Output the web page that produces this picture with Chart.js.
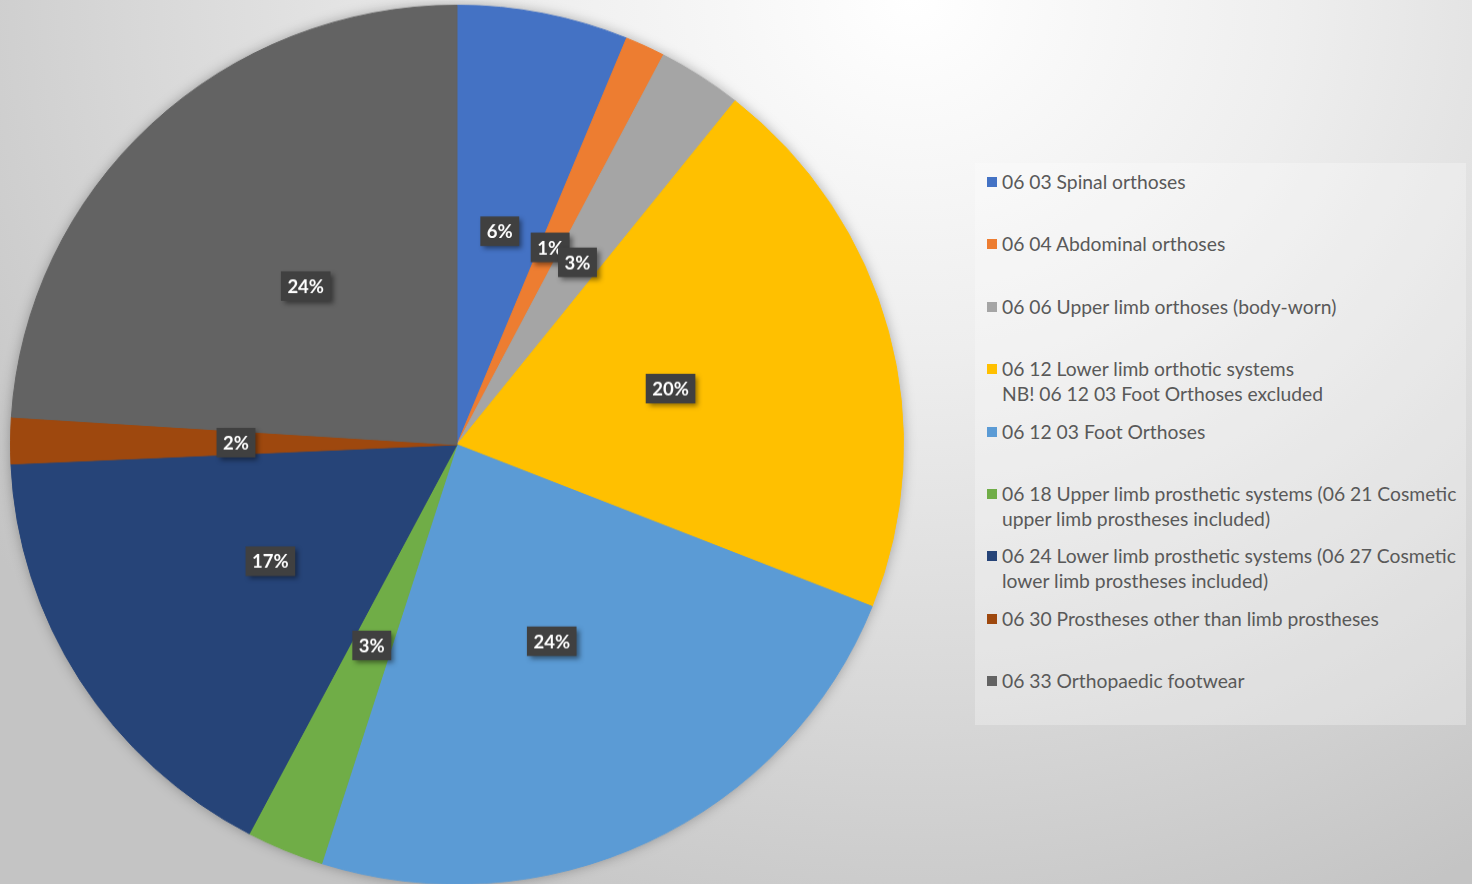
<!DOCTYPE html>
<html>
<head>
<meta charset="utf-8">
<script src="https://cdn.jsdelivr.net/npm/chart.js@4/dist/chart.umd.min.js"></script>
<style>
  html, body { margin: 0; padding: 0; width: 1472px; height: 884px; overflow: hidden; }
  body {
    position: relative;
    background: radial-gradient(ellipse 1100px 1000px at 62% 0%, #ffffff 0%, #eeeeee 35%, #d8d8d8 70%, #c4c4c4 100%);
    font-family: Lato, "Open Sans", sans-serif;
  }
  #wrap {
    position: absolute; left: -10px; top: -14.7px; width: 934px; height: 934px;
    transform: scaleY(0.9843); transform-origin: 0 0;
  }
  #legend {
    position: absolute; left: 975px; top: 163px; width: 491px; height: 562px;
    background: rgba(255, 255, 255, 0.28);
  }
  .item { position: absolute; left: 12px; right: 2px; color: #595959; font-size: 19.3px; line-height: 25px; }
  .item .box { position: absolute; left: 0; top: 8px; width: 10px; height: 10px; }
  .item .txt { margin-left: 15px; white-space: pre; }
</style>
</head>
<body>
<div id="wrap"><canvas id="chart"></canvas></div>
<div id="legend"></div>
<script>
const categories = [
  "06 03 Spinal orthoses",
  "06 04 Abdominal orthoses",
  "06 06 Upper limb orthoses (body-worn)",
  "06 12 Lower limb orthotic systems\nNB! 06 12 03 Foot Orthoses excluded",
  "06 12 03 Foot Orthoses",
  "06 18 Upper limb prosthetic systems (06 21 Cosmetic\nupper limb prostheses included)",
  "06 24 Lower limb prosthetic systems (06 27 Cosmetic\nlower limb prostheses included)",
  "06 30 Prostheses other than limb prostheses",
  "06 33 Orthopaedic footwear"
];
const shares = [6.2, 1.45, 3.05, 20.3, 23.9, 2.8, 16.6, 1.7, 24.0];
const colors = ["#4472C4", "#ED7D31", "#A5A5A5", "#FFC000", "#5B9BD5", "#70AD47", "#264478", "#9E480E", "#636363"];

// soft glow behind the pie
const pieShadow = {
  id: 'pieShadow',
  beforeDatasetsDraw(chart) {
    const arc = chart.getDatasetMeta(0).data[0];
    if (!arc) return;
    const { x, y, outerRadius } = arc.getProps(['x', 'y', 'outerRadius'], true);
    const ctx = chart.ctx;
    ctx.save();
    ctx.shadowColor = 'rgba(0,0,0,0.35)';
    ctx.shadowBlur = 14;
    ctx.beginPath();
    ctx.arc(x, y, outerRadius - 1, 0, Math.PI * 2);
    ctx.fillStyle = '#888';
    ctx.fill();
    ctx.restore();
  }
};

// percentage labels in dark boxes, at half radius
const pctLabels = {
  id: 'pctLabels',
  afterDatasetsDraw(chart) {
    const ctx = chart.ctx;
    const data = chart.data.datasets[0].data;
    const total = data.reduce((a, b) => a + b, 0);
    chart.getDatasetMeta(0).data.forEach((arc, i) => {
      const p = arc.getProps(['x', 'y', 'startAngle', 'endAngle', 'outerRadius'], true);
      const mid = (p.startAngle + p.endAngle) / 2;
      const r = p.outerRadius * 0.495;
      const cx = p.x + Math.cos(mid) * r;
      const cy = p.y + Math.sin(mid) * r;
      const text = Math.round(data[i] / total * 100) + '%';
      ctx.save();
      ctx.font = 'bold 18.5px Lato, "Open Sans", sans-serif';
      const w = ctx.measureText(text).width + 13;
      const h = 30;
      ctx.shadowColor = 'rgba(0,0,0,0.45)';
      ctx.shadowBlur = 5;
      ctx.shadowOffsetX = 3;
      ctx.shadowOffsetY = 3;
      ctx.fillStyle = '#404040';
      ctx.fillRect(cx - w / 2, cy - h / 2, w, h);
      ctx.shadowColor = 'transparent';
      ctx.fillStyle = '#ffffff';
      ctx.textAlign = 'center';
      ctx.textBaseline = 'middle';
      ctx.fillText(text, cx, cy + 1);
      ctx.restore();
    });
  }
};

const chart = new Chart(document.getElementById('chart'), {
  type: 'pie',
  data: {
    labels: categories,
    datasets: [{
      data: shares,
      backgroundColor: colors,
      borderColor: colors,
      borderWidth: 1
    }]
  },
  options: {
    responsive: true,
    maintainAspectRatio: false,
    animation: false,
    layout: { padding: 20 },
    plugins: {
      legend: { display: false },
      tooltip: { enabled: false }
    }
  },
  plugins: [pieShadow, pctLabels]
});

// legend built from the chart's own labels and colours
const legend = document.getElementById('legend');
chart.data.labels.forEach((label, i) => {
  const item = document.createElement('div');
  item.className = 'item';
  item.style.top = (6 + i * 62.4) + 'px';
  const box = document.createElement('span');
  box.className = 'box';
  box.style.background = chart.data.datasets[0].backgroundColor[i];
  const txt = document.createElement('div');
  txt.className = 'txt';
  txt.textContent = label;
  item.appendChild(box);
  item.appendChild(txt);
  legend.appendChild(item);
});
</script>
</body>
</html>
